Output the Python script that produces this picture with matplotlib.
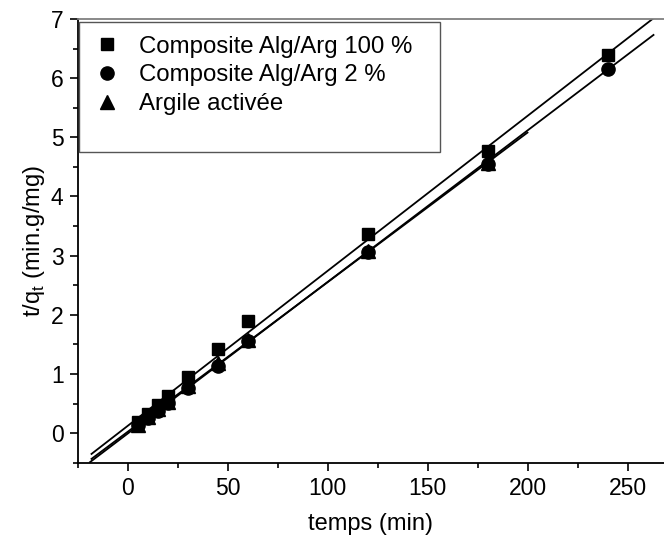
import matplotlib
matplotlib.use("Agg")
import matplotlib.pyplot as plt
from matplotlib.patches import Rectangle
from matplotlib.ticker import MultipleLocator
import numpy as np

plt.rcParams['font.family'] = ['Liberation Sans', 'DejaVu Sans']

# Data
t_sq = [5, 10, 15, 20, 30, 45, 60, 120, 180, 240]
y_sq = [0.18, 0.32, 0.47, 0.63, 0.95, 1.43, 1.89, 3.36, 4.77, 6.39]

t_ci = [5, 10, 15, 20, 30, 45, 60, 120, 180, 240]
y_ci = [0.13, 0.26, 0.38, 0.51, 0.76, 1.13, 1.55, 3.06, 4.55, 6.16]

t_tr = [5, 10, 15, 20, 30, 45, 60, 120, 180]
y_tr = [0.14, 0.28, 0.41, 0.53, 0.80, 1.18, 1.58, 3.08, 4.56]

labels = ["Composite Alg/Arg 100 %", "Composite Alg/Arg 2 %", "Argile activée"]

# Linear fits (slope, intercept) and fit ranges
fit_sq = (0.02621, 0.12)
fit_ci = (0.02563, -0.01)
fit_tr = (0.02530, 0.02)
range_sq = (-18, 270)
range_ci = (-18.7, 263)
range_tr = (-18, 200)

fig = plt.figure(figsize=(6.64, 5.46), dpi=100)
ax = fig.add_axes([77.5/664, 83.3/546, 1 - 77.5/664, 443.7/546])

ax.plot(t_sq, y_sq, 's', color='black', markersize=8.5, clip_on=False)
ax.plot(t_ci, y_ci, 'o', color='black', markersize=9.5, clip_on=False)
ax.plot(t_tr, y_tr, '^', color='black', markersize=10, clip_on=False)

for (m, b), (x0, x1) in [(fit_sq, range_sq), (fit_ci, range_ci), (fit_tr, range_tr)]:
    xs = np.array([x0, x1])
    ax.plot(xs, m * xs + b, '-', color='black', lw=1.3)

ax.set_xlim(-25, 268.25)
ax.set_ylim(-0.5, 7)
ax.xaxis.set_major_locator(MultipleLocator(50))
ax.xaxis.set_minor_locator(MultipleLocator(25))
ax.yaxis.set_major_locator(MultipleLocator(1))
ax.yaxis.set_minor_locator(MultipleLocator(0.5))
ax.tick_params(which='both', direction='out', top=False, right=False, labelsize=16.5, width=1.2)
ax.tick_params(which='major', length=6, pad=4)
ax.tick_params(which='minor', length=3.5)
for s in ['left', 'bottom']:
    ax.spines[s].set_linewidth(1.3)
ax.spines['right'].set_visible(False)
ax.spines['top'].set_color('#808080')
ax.spines['top'].set_linewidth(1.3)

ax.set_xlabel('temps (min)', fontsize=17, labelpad=10)
ax.set_ylabel(r't/q$_\mathregular{t}$ (min.g/mg)', fontsize=17, labelpad=3)

# legend frame
ax.add_patch(Rectangle((0.0026, 0.700), 0.616, 0.294, transform=ax.transAxes,
                       fill=False, edgecolor='#555555', lw=1.0, zorder=5))
leg = ax.legend(labels, loc='upper left', bbox_to_anchor=(0.005, 0.995), frameon=False,
                fontsize=17.3, handlelength=1.0, handletextpad=0.85, labelspacing=0.28,
                borderaxespad=0.2, borderpad=0.4)
leg.set_zorder(6)

fig.savefig('out.png', dpi=100)
